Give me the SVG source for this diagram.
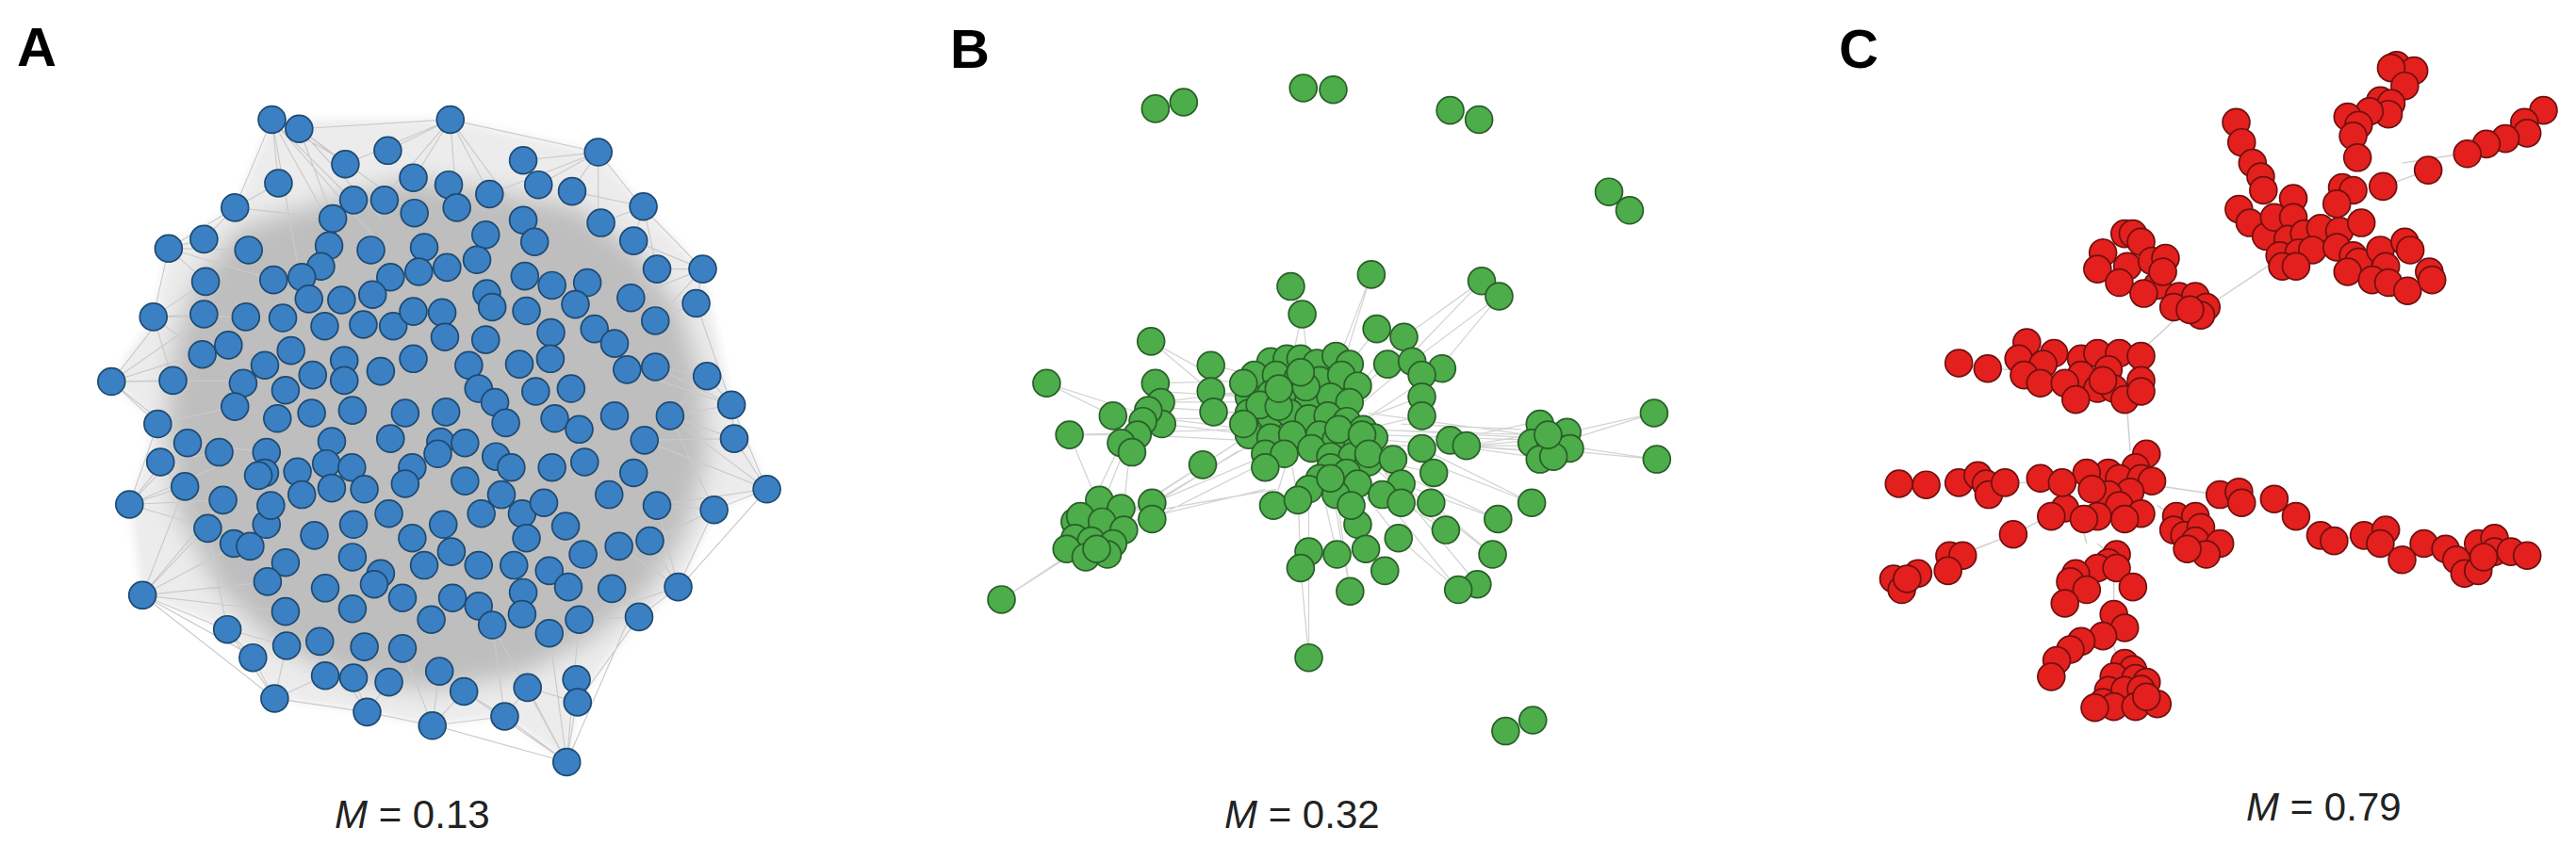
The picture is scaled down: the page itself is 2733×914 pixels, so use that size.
<svg xmlns="http://www.w3.org/2000/svg" width="2733" height="914" viewBox="0 0 2733 914">
<defs>
<filter id="soft" x="-10%" y="-10%" width="120%" height="120%"><feGaussianBlur stdDeviation="22"/></filter>
<filter id="soft2" x="-10%" y="-10%" width="120%" height="120%"><feGaussianBlur stdDeviation="8"/></filter>
</defs>
<style>
.lbl{font-family:"Liberation Sans",Arial,sans-serif;font-weight:bold;font-size:58px;fill:#000}
.m{font-family:"Liberation Sans",Arial,sans-serif;font-size:42px;fill:#222}
.na circle{fill:#3b80c2;stroke:#1e4a72;stroke-width:3}
.nb circle{fill:#4cad4a;stroke:#2a5f28;stroke-width:3}
.nc circle{fill:#e3201d;stroke:#701010;stroke-width:3}
.ea{stroke:#cacaca;stroke-width:2;fill:none}
.eb{stroke:#d4d4d4;stroke-width:2.2;fill:none}
.ec{stroke:#cfcfcf;stroke-width:2.5;fill:none}
</style>
<rect width="2733" height="914" fill="#fff"/>
<text class="lbl" x="18" y="70">A</text>
<text class="lbl" x="1008" y="72">B</text>
<text class="lbl" x="1951" y="72">C</text>
<text class="m" x="355" y="879"><tspan font-style="italic">M</tspan> = 0.13</text>
<text class="m" x="1299" y="879"><tspan font-style="italic">M</tspan> = 0.32</text>
<text class="m" x="2383" y="871"><tspan font-style="italic">M</tspan> = 0.79</text>

<g id="connectors">
<g id="edges-a" transform="scale(0.577)">
<polygon points="500,220 828,220 1100,280 1183,380 1292,495 1345,745 1410,900 1313,938 1247,1080 1175,1135 1062,1292 1042,1402 928,1318 795,1335 675,1310 505,1285 418,1158 262,1095 238,928 290,780 205,702 282,583 310,457 432,382" fill="#ececec" filter="url(#soft2)"/>
<polygon points="440,420 600,370 760,330 900,350 1060,380 1170,460 1250,570 1290,700 1300,840 1260,980 1190,1090 1080,1180 960,1240 800,1270 640,1250 500,1180 400,1080 330,950 305,800 320,640 360,520" fill="#bebebe" filter="url(#soft)"/>
<path class="ea" d="M500 220L600 400M500 220L650 370M500 220L700 450M500 220L550 500M500 220L640 300M500 220L432 382M500 220L512 337M550 237L700 400M550 237L760 390M550 237L612 402M550 237L828 220M550 237L635 302M828 220L760 330M828 220L900 357M828 220L960 400M828 220L700 370M828 220L1100 280M828 220L635 302M828 220L713 277M828 220L840 382M1100 280L990 340M1100 280L1050 352M1100 280L1100 410M1100 280L1180 380M1100 280L960 295M1100 280L900 357M205 702L320 700M205 702L380 580M205 702L370 650M205 702L290 780M205 702L450 700M205 702L300 580M205 702L420 635M205 702L345 815M238 928L340 895M238 928L290 780M238 928L380 970M238 928L420 850M238 928L300 850M238 928L410 920M238 928L345 815M262 1095L380 970M262 1095L420 1160M262 1095L470 1210M262 1095L500 1070M262 1095L340 895M262 1095L440 1000M262 1095L505 1285M262 1095L525 1125M262 1095L410 920M1042 1402L970 1265M1042 1402L1060 1290M1042 1402L928 1318M1042 1402L850 1270M1042 1402L1010 1165M1042 1402L1160 1130M1042 1402L800 1335M1042 1402L1065 1140M1042 1402L905 1150M1410 900L1313 938M1410 900L1350 807M1410 900L1230 765M1410 900L1250 1080M1410 900L1200 930M1410 900L1185 810M1410 900L1345 745M1292 495L1208 495M1292 495L1280 558M1292 495L1165 443M1292 495L1180 380M1292 495L1160 548M1292 495L1205 590M1345 745L1300 692M1345 745L1350 807M1345 745L1232 765M1345 745L1205 675M1345 745L1153 680M1345 745L1280 558M1247 1080L1175 1135M1247 1080L1138 1005M1247 1080L1313 938M1247 1080L1065 1140M1247 1080L1195 995M1247 1080L1208 930M310 457L375 440M310 457L378 518M310 457L432 382M310 457L457 460M310 457L282 583M310 457L503 515M282 583L375 578M282 583L372 652M282 583L318 700M282 583L378 518M282 583L452 583M505 1285L598 1243M505 1285L465 1210M505 1285L527 1188M505 1285L675 1310M505 1285L418 1158M675 1310L795 1335M675 1310L715 1255M675 1310L650 1247M675 1310L588 1180M795 1335L808 1235M795 1335L853 1272M795 1335L928 1318M795 1335L740 1193M928 1318L970 1265M928 1318L853 1272M928 1318L905 1150M1062 1292L970 1265M1062 1292L1060 1250M1062 1292L1175 1135M1175 1135L1125 1083M1175 1135L1065 1140M1313 938L1208 930M1313 938L1232 765M1313 938L1195 995M1183 380L1105 410M1183 380L1165 443M1183 380L1052 352M418 1158L465 1210M418 1158L527 1188M418 1158L382 972M432 382L512 337M432 382L612 402M432 382L375 440M290 780L403 832M290 780L432 748M295 850L403 832M295 850L382 972M345 815L490 832M1350 807L1185 810M1350 807L1232 765M1300 692L1205 675M1300 692L1232 765M1280 558L1205 590M1183 380L1208 495"/>
</g>
<g id="edges-b" transform="translate(950 0) scale(0.577)">
<path class="eb" d="M875 505L820 680M875 505L800 700M727 527L748 578M748 578L760 680M748 578L720 700M1078 517L960 640M1078 517L935 620M1110 545L970 650M1110 545L990 690M470 628L600 700M470 628L580 720M278 705L450 760M278 705L400 765M320 800L620 790M320 800L370 920M320 800L445 800M195 1103L340 1010M195 1103L320 1020M760 1210L760 930M760 1210L745 1045M1395 760L1240 795M1395 760L1235 810M1400 845L1240 830M1400 845L1230 820M1170 925L900 820M1170 925L968 825M1108 955L880 850M1108 955L930 890M1098 1020L890 860M1098 1020L985 925M1035 1085L870 880M1035 1085L925 990M1070 1075L900 870M836 1088L810 900M836 1088L800 880M490 740L640 740M490 750L650 760M490 770L650 790M490 780L660 800M488 740L640 720M478 705L660 700M478 720L650 730M455 770L640 770M445 800L640 810M420 950L650 800M440 940L700 830M430 960L680 900M470 930L630 830M400 960L565 855M472 925L650 820M472 955L680 850M472 940L700 900M420 830L380 930M430 840L420 930M415 815L350 950M565 855L650 800M1060 820L1170 810M1050 820L1170 800M1050 820L1180 830M1060 825L1170 840M1020 810L1160 780M880 800L1180 810M860 790L1170 800M890 820L1160 820M880 790L1160 805M900 810L1170 830M870 760L1165 800M930 780L1150 790M885 605L820 690M935 620L850 710M905 670L850 720M950 665L860 740M1005 678L880 760M968 730L860 770M968 765L860 790M858 800L800 800M990 870L850 840M1012 975L880 860M925 990L840 880M900 1050L830 880M865 1010L800 870M812 1020L780 880M760 1015L760 880M745 1045L740 900M695 930L720 850M740 920L730 860M580 720L650 730M585 758L650 760M580 672L660 690M1012 975L930 925M1098 1020L985 925"/>
</g>
<g id="edges-c" transform="translate(1833 0) scale(0.577)">
<path class="ec" d="M1000 485L880 565M820 590L745 660M735 760L740 830M800 895L900 910M455 1010L520 985M520 985L590 950M1240 300L1350 283M1205 343L1288 313M1080 470L1160 480M710 1060L710 1130M700 1160L720 1220M520 685L550 690M478 678L520 680M520 888L560 888M790 930L820 950M650 960L660 1000M680 1000L715 1030M1135 990L1170 985M1230 1010L1280 1005M1000 918L1045 950M1060 440L1040 400M1130 345L1150 400"/>
</g>
</g>

<g id="nodes-a" class="na" transform="scale(0.577)">
<circle id="a1" cx="500" cy="220" r="25"/><circle id="a2" cx="550" cy="237" r="25"/><circle id="a3" cx="828" cy="220" r="25"/>
<circle id="a4" cx="713" cy="277" r="25"/><circle id="a5" cx="1100" cy="280" r="25"/>
<circle id="a6" cx="635" cy="302" r="25"/><circle id="a7" cx="962" cy="295" r="25"/>
<circle id="a8" cx="512" cy="337" r="25"/><circle id="a9" cx="760" cy="327" r="25"/><circle id="a10" cx="825" cy="340" r="25"/><circle id="a11" cx="990" cy="340" r="25"/>
<circle id="a12" cx="650" cy="368" r="25"/><circle id="a13" cx="707" cy="368" r="25"/><circle id="a14" cx="900" cy="357" r="25"/><circle id="a15" cx="1052" cy="352" r="25"/>
<circle id="a16" cx="432" cy="382" r="25"/><circle id="a17" cx="762" cy="392" r="25"/><circle id="a18" cx="840" cy="382" r="25"/><circle id="a19" cx="1183" cy="380" r="25"/>
<circle id="a20" cx="612" cy="402" r="25"/><circle id="a21" cx="962" cy="405" r="25"/><circle id="a22" cx="1105" cy="410" r="25"/>
<circle id="a23" cx="310" cy="457" r="25"/><circle id="a24" cx="375" cy="440" r="25"/><circle id="a25" cx="457" cy="460" r="25"/><circle id="a26" cx="605" cy="452" r="25"/><circle id="a27" cx="682" cy="460" r="25"/><circle id="a28" cx="780" cy="455" r="25"/><circle id="a29" cx="893" cy="432" r="25"/><circle id="a30" cx="983" cy="445" r="25"/><circle id="a31" cx="1165" cy="443" r="25"/>
<circle id="a32" cx="590" cy="490" r="25"/><circle id="a33" cx="503" cy="515" r="25"/><circle id="a34" cx="555" cy="510" r="25"/><circle id="a35" cx="718" cy="510" r="25"/><circle id="a36" cx="770" cy="500" r="25"/><circle id="a37" cx="822" cy="492" r="25"/><circle id="a38" cx="877" cy="478" r="25"/><circle id="a39" cx="965" cy="508" r="25"/><circle id="a40" cx="1015" cy="525" r="25"/><circle id="a41" cx="1080" cy="520" r="25"/><circle id="a42" cx="1208" cy="495" r="25"/><circle id="a43" cx="1292" cy="495" r="25"/>
<circle id="a44" cx="378" cy="518" r="25"/><circle id="a45" cx="568" cy="550" r="25"/><circle id="a46" cx="628" cy="552" r="25"/><circle id="a47" cx="685" cy="542" r="25"/><circle id="a48" cx="895" cy="540" r="25"/><circle id="a49" cx="905" cy="565" r="25"/><circle id="a50" cx="1058" cy="560" r="25"/><circle id="a51" cx="1160" cy="548" r="25"/><circle id="a52" cx="1280" cy="558" r="25"/>
<circle id="a53" cx="282" cy="583" r="25"/><circle id="a54" cx="375" cy="578" r="25"/><circle id="a55" cx="452" cy="583" r="25"/><circle id="a56" cx="520" cy="585" r="25"/><circle id="a57" cx="597" cy="600" r="25"/><circle id="a58" cx="668" cy="597" r="25"/><circle id="a59" cx="723" cy="600" r="25"/><circle id="a60" cx="760" cy="573" r="25"/><circle id="a61" cx="813" cy="575" r="25"/><circle id="a62" cx="818" cy="620" r="25"/><circle id="a63" cx="968" cy="572" r="25"/><circle id="a64" cx="1013" cy="612" r="25"/><circle id="a65" cx="1093" cy="605" r="25"/><circle id="a66" cx="1205" cy="590" r="25"/>
<circle id="a67" cx="372" cy="652" r="25"/><circle id="a68" cx="420" cy="635" r="25"/><circle id="a69" cx="535" cy="645" r="25"/><circle id="a70" cx="893" cy="625" r="25"/><circle id="a71" cx="1130" cy="632" r="25"/>
<circle id="a72" cx="205" cy="702" r="25"/><circle id="a73" cx="318" cy="700" r="25"/><circle id="a74" cx="487" cy="672" r="25"/><circle id="a75" cx="447" cy="705" r="25"/><circle id="a76" cx="575" cy="690" r="25"/><circle id="a77" cx="633" cy="663" r="25"/><circle id="a78" cx="633" cy="700" r="25"/><circle id="a79" cx="700" cy="683" r="25"/><circle id="a80" cx="760" cy="660" r="25"/><circle id="a81" cx="862" cy="672" r="25"/><circle id="a82" cx="880" cy="715" r="25"/><circle id="a83" cx="955" cy="670" r="25"/><circle id="a84" cx="1012" cy="660" r="25"/><circle id="a85" cx="1153" cy="680" r="25"/><circle id="a86" cx="1205" cy="675" r="25"/><circle id="a87" cx="1300" cy="692" r="25"/>
<circle id="a88" cx="525" cy="718" r="25"/><circle id="a89" cx="910" cy="740" r="25"/><circle id="a90" cx="985" cy="720" r="25"/><circle id="a91" cx="1050" cy="715" r="25"/><circle id="a92" cx="1345" cy="745" r="25"/>
<circle id="a93" cx="290" cy="780" r="25"/><circle id="a94" cx="432" cy="748" r="25"/><circle id="a95" cx="510" cy="770" r="25"/><circle id="a96" cx="648" cy="755" r="25"/><circle id="a97" cx="573" cy="760" r="25"/><circle id="a98" cx="745" cy="760" r="25"/><circle id="a99" cx="820" cy="758" r="25"/><circle id="a100" cx="930" cy="778" r="25"/><circle id="a101" cx="1020" cy="770" r="25"/><circle id="a102" cx="1065" cy="790" r="25"/><circle id="a103" cx="1130" cy="765" r="25"/><circle id="a104" cx="1232" cy="765" r="25"/>
<circle id="a105" cx="345" cy="815" r="25"/><circle id="a106" cx="403" cy="832" r="25"/><circle id="a107" cx="490" cy="832" r="25"/><circle id="a108" cx="610" cy="812" r="25"/><circle id="a109" cx="600" cy="853" r="25"/><circle id="a110" cx="718" cy="807" r="25"/><circle id="a111" cx="810" cy="813" r="25"/><circle id="a112" cx="855" cy="815" r="25"/><circle id="a113" cx="1185" cy="810" r="25"/><circle id="a114" cx="1350" cy="807" r="25"/>
<circle id="a115" cx="295" cy="850" r="25"/><circle id="a116" cx="487" cy="870" r="25"/><circle id="a117" cx="547" cy="868" r="25"/><circle id="a118" cx="647" cy="860" r="25"/><circle id="a119" cx="758" cy="860" r="25"/><circle id="a120" cx="805" cy="835" r="25"/><circle id="a121" cx="912" cy="840" r="25"/><circle id="a122" cx="940" cy="860" r="25"/><circle id="a123" cx="1015" cy="860" r="25"/><circle id="a124" cx="1075" cy="850" r="25"/><circle id="a125" cx="1165" cy="870" r="25"/>
<circle id="a126" cx="238" cy="928" r="25"/><circle id="a127" cx="340" cy="895" r="25"/><circle id="a128" cx="410" cy="920" r="25"/><circle id="a129" cx="475" cy="875" r="25"/><circle id="a130" cx="555" cy="910" r="25"/><circle id="a131" cx="610" cy="898" r="25"/><circle id="a132" cx="670" cy="900" r="25"/><circle id="a133" cx="745" cy="890" r="25"/><circle id="a134" cx="855" cy="885" r="25"/><circle id="a135" cx="922" cy="910" r="25"/><circle id="a136" cx="960" cy="945" r="25"/><circle id="a137" cx="1000" cy="925" r="25"/><circle id="a138" cx="1120" cy="910" r="25"/><circle id="a139" cx="1208" cy="930" r="25"/><circle id="a140" cx="1313" cy="938" r="25"/><circle id="a141" cx="1410" cy="900" r="25"/>
<circle id="a142" cx="382" cy="972" r="25"/><circle id="a143" cx="430" cy="1000" r="25"/><circle id="a144" cx="460" cy="1005" r="25"/><circle id="a145" cx="490" cy="965" r="25"/><circle id="a146" cx="498" cy="930" r="25"/><circle id="a147" cx="578" cy="985" r="25"/><circle id="a148" cx="650" cy="965" r="25"/><circle id="a149" cx="715" cy="945" r="25"/><circle id="a150" cx="758" cy="990" r="25"/><circle id="a151" cx="815" cy="965" r="25"/><circle id="a152" cx="885" cy="945" r="25"/><circle id="a153" cx="968" cy="990" r="25"/><circle id="a154" cx="1040" cy="968" r="25"/><circle id="a155" cx="1138" cy="1005" r="25"/><circle id="a156" cx="1195" cy="995" r="25"/><circle id="a157" cx="1247" cy="1080" r="25"/>
<circle id="a158" cx="525" cy="1035" r="25"/><circle id="a159" cx="648" cy="1025" r="25"/><circle id="a160" cx="700" cy="1055" r="25"/><circle id="a161" cx="780" cy="1040" r="25"/><circle id="a162" cx="830" cy="1015" r="25"/><circle id="a163" cx="880" cy="1040" r="25"/><circle id="a164" cx="945" cy="1040" r="25"/><circle id="a165" cx="1010" cy="1050" r="25"/><circle id="a166" cx="1072" cy="1020" r="25"/>
<circle id="a167" cx="492" cy="1070" r="25"/><circle id="a168" cx="598" cy="1082" r="25"/><circle id="a169" cx="688" cy="1075" r="25"/><circle id="a170" cx="740" cy="1100" r="25"/><circle id="a171" cx="832" cy="1100" r="25"/><circle id="a172" cx="880" cy="1115" r="25"/><circle id="a173" cx="962" cy="1090" r="25"/><circle id="a174" cx="1045" cy="1080" r="25"/><circle id="a175" cx="1125" cy="1083" r="25"/>
<circle id="a176" cx="262" cy="1095" r="25"/><circle id="a177" cx="525" cy="1125" r="25"/><circle id="a178" cx="648" cy="1120" r="25"/><circle id="a179" cx="793" cy="1140" r="25"/><circle id="a180" cx="905" cy="1150" r="25"/><circle id="a181" cx="960" cy="1130" r="25"/><circle id="a182" cx="1065" cy="1140" r="25"/><circle id="a183" cx="1175" cy="1135" r="25"/>
<circle id="a184" cx="418" cy="1158" r="25"/><circle id="a185" cx="527" cy="1188" r="25"/><circle id="a186" cx="588" cy="1180" r="25"/><circle id="a187" cx="670" cy="1190" r="25"/><circle id="a188" cx="740" cy="1193" r="25"/><circle id="a189" cx="1010" cy="1165" r="25"/>
<circle id="a190" cx="465" cy="1210" r="25"/><circle id="a191" cx="598" cy="1243" r="25"/><circle id="a192" cx="650" cy="1247" r="25"/><circle id="a193" cx="715" cy="1255" r="25"/><circle id="a194" cx="808" cy="1235" r="25"/><circle id="a195" cx="853" cy="1272" r="25"/><circle id="a196" cx="970" cy="1265" r="25"/><circle id="a197" cx="1060" cy="1250" r="25"/>
<circle id="a198" cx="505" cy="1285" r="25"/><circle id="a199" cx="675" cy="1310" r="25"/><circle id="a200" cx="795" cy="1335" r="25"/><circle id="a201" cx="928" cy="1318" r="25"/><circle id="a202" cx="1062" cy="1292" r="25"/>
<circle id="a203" cx="1042" cy="1402" r="25"/>
</g>

<g id="nodes-b" class="nb" transform="translate(950 0) scale(0.577)">
<circle id="b1" cx="478" cy="200" r="25"/><circle id="b2" cx="530" cy="188" r="25"/><circle id="b3" cx="750" cy="162" r="25"/><circle id="b4" cx="805" cy="165" r="25"/><circle id="b5" cx="1020" cy="203" r="25"/><circle id="b6" cx="1073" cy="220" r="25"/><circle id="b7" cx="1312" cy="353" r="25"/><circle id="b8" cx="1350" cy="387" r="25"/><circle id="b9" cx="1122" cy="1345" r="25"/><circle id="b10" cx="1172" cy="1325" r="25"/>
<circle id="b11" cx="875" cy="505" r="25"/><circle id="b12" cx="727" cy="527" r="25"/><circle id="b13" cx="748" cy="578" r="25"/><circle id="b14" cx="1078" cy="517" r="25"/><circle id="b15" cx="1110" cy="545" r="25"/><circle id="b16" cx="470" cy="628" r="25"/><circle id="b17" cx="278" cy="705" r="25"/><circle id="b18" cx="320" cy="800" r="25"/><circle id="b19" cx="195" cy="1103" r="25"/><circle id="b20" cx="760" cy="1210" r="25"/><circle id="b21" cx="1395" cy="760" r="25"/><circle id="b22" cx="1400" cy="845" r="25"/><circle id="b23" cx="1170" cy="925" r="25"/><circle id="b24" cx="1108" cy="955" r="25"/><circle id="b25" cx="1098" cy="1020" r="25"/><circle id="b26" cx="1070" cy="1075" r="25"/><circle id="b27" cx="1035" cy="1085" r="25"/><circle id="b28" cx="836" cy="1088" r="25"/>
<circle id="b29" cx="580" cy="672" r="25"/><circle id="b30" cx="580" cy="720" r="25"/><circle id="b31" cx="585" cy="758" r="25"/><circle id="b32" cx="478" cy="705" r="25"/><circle id="b33" cx="488" cy="740" r="25"/><circle id="b34" cx="490" cy="780" r="25"/><circle id="b35" cx="465" cy="755" r="25"/><circle id="b36" cx="455" cy="775" r="25"/><circle id="b37" cx="445" cy="800" r="25"/><circle id="b38" cx="400" cy="765" r="25"/><circle id="b39" cx="415" cy="815" r="25"/><circle id="b40" cx="435" cy="832" r="25"/><circle id="b41" cx="565" cy="855" r="25"/>
<circle id="b42" cx="330" cy="960" r="25"/><circle id="b43" cx="375" cy="920" r="25"/><circle id="b44" cx="415" cy="935" r="25"/><circle id="b45" cx="340" cy="950" r="25"/><circle id="b46" cx="380" cy="960" r="25"/><circle id="b47" cx="330" cy="990" r="25"/><circle id="b48" cx="420" cy="975" r="25"/><circle id="b49" cx="360" cy="995" r="25"/><circle id="b50" cx="400" cy="1000" r="25"/><circle id="b51" cx="315" cy="1010" r="25"/><circle id="b52" cx="350" cy="1025" r="25"/><circle id="b53" cx="390" cy="1020" r="25"/><circle id="b54" cx="370" cy="1010" r="25"/><circle id="b55" cx="472" cy="925" r="25"/><circle id="b56" cx="472" cy="955" r="25"/>
<circle id="b57" cx="690" cy="665" r="25"/><circle id="b58" cx="720" cy="660" r="25"/><circle id="b59" cx="745" cy="660" r="25"/><circle id="b60" cx="775" cy="668" r="25"/><circle id="b61" cx="810" cy="655" r="25"/><circle id="b62" cx="835" cy="670" r="25"/><circle id="b63" cx="660" cy="690" r="25"/><circle id="b64" cx="700" cy="690" r="25"/><circle id="b65" cx="740" cy="695" r="25"/><circle id="b66" cx="780" cy="700" r="25"/><circle id="b67" cx="820" cy="690" r="25"/><circle id="b68" cx="850" cy="710" r="25"/><circle id="b69" cx="650" cy="730" r="25"/><circle id="b70" cx="690" cy="725" r="25"/><circle id="b71" cx="730" cy="730" r="25"/><circle id="b72" cx="760" cy="735" r="25"/><circle id="b73" cx="800" cy="730" r="25"/><circle id="b74" cx="835" cy="740" r="25"/><circle id="b75" cx="650" cy="760" r="25"/><circle id="b76" cx="690" cy="765" r="25"/><circle id="b77" cx="725" cy="760" r="25"/><circle id="b78" cx="760" cy="770" r="25"/><circle id="b79" cx="795" cy="765" r="25"/><circle id="b80" cx="830" cy="775" r="25"/><circle id="b81" cx="860" cy="790" r="25"/><circle id="b82" cx="650" cy="800" r="25"/><circle id="b83" cx="690" cy="805" r="25"/><circle id="b84" cx="730" cy="800" r="25"/><circle id="b85" cx="780" cy="800" r="25"/><circle id="b86" cx="810" cy="810" r="25"/><circle id="b87" cx="850" cy="815" r="25"/><circle id="b88" cx="880" cy="805" r="25"/><circle id="b89" cx="680" cy="835" r="25"/><circle id="b90" cx="715" cy="835" r="25"/><circle id="b91" cx="765" cy="825" r="25"/><circle id="b92" cx="800" cy="840" r="25"/><circle id="b93" cx="840" cy="840" r="25"/><circle id="b94" cx="870" cy="850" r="25"/><circle id="b95" cx="680" cy="860" r="25"/><circle id="b96" cx="800" cy="860" r="25"/><circle id="b97" cx="780" cy="880" r="25"/><circle id="b98" cx="830" cy="870" r="25"/><circle id="b99" cx="850" cy="890" r="25"/><circle id="b100" cx="760" cy="900" r="25"/><circle id="b101" cx="810" cy="910" r="25"/>
<circle id="b141" cx="640" cy="705" r="25"/><circle id="b142" cx="670" cy="745" r="25"/><circle id="b143" cx="705" cy="748" r="25"/><circle id="b144" cx="755" cy="712" r="25"/><circle id="b145" cx="640" cy="780" r="25"/><circle id="b146" cx="745" cy="685" r="25"/><circle id="b147" cx="705" cy="715" r="25"/><circle id="b148" cx="815" cy="790" r="25"/>
<circle id="b102" cx="885" cy="605" r="25"/><circle id="b103" cx="935" cy="620" r="25"/><circle id="b104" cx="905" cy="670" r="25"/><circle id="b105" cx="950" cy="665" r="25"/><circle id="b106" cx="1005" cy="678" r="25"/><circle id="b107" cx="968" cy="690" r="25"/><circle id="b108" cx="968" cy="730" r="25"/><circle id="b109" cx="968" cy="765" r="25"/><circle id="b110" cx="858" cy="800" r="25"/><circle id="b111" cx="870" cy="835" r="25"/><circle id="b112" cx="915" cy="845" r="25"/><circle id="b113" cx="968" cy="825" r="25"/><circle id="b114" cx="990" cy="870" r="25"/><circle id="b115" cx="1020" cy="810" r="25"/><circle id="b116" cx="1050" cy="820" r="25"/><circle id="b117" cx="930" cy="890" r="25"/><circle id="b118" cx="895" cy="910" r="25"/><circle id="b119" cx="930" cy="925" r="25"/><circle id="b120" cx="985" cy="925" r="25"/><circle id="b121" cx="1012" cy="975" r="25"/><circle id="b122" cx="925" cy="990" r="25"/><circle id="b123" cx="850" cy="965" r="25"/><circle id="b124" cx="865" cy="1010" r="25"/><circle id="b125" cx="900" cy="1050" r="25"/><circle id="b126" cx="812" cy="1020" r="25"/><circle id="b127" cx="760" cy="1015" r="25"/><circle id="b128" cx="745" cy="1045" r="25"/><circle id="b129" cx="695" cy="930" r="25"/><circle id="b130" cx="740" cy="920" r="25"/><circle id="b131" cx="800" cy="880" r="25"/><circle id="b132" cx="838" cy="930" r="25"/>
<circle id="b133" cx="1185" cy="780" r="25"/><circle id="b134" cx="1235" cy="795" r="25"/><circle id="b135" cx="1170" cy="815" r="25"/><circle id="b136" cx="1205" cy="815" r="25"/><circle id="b137" cx="1240" cy="825" r="25"/><circle id="b138" cx="1185" cy="845" r="25"/><circle id="b139" cx="1210" cy="840" r="25"/><circle id="b140" cx="1200" cy="800" r="25"/>
</g>

<g id="nodes-c" class="nc" transform="translate(1833 0) scale(0.577)">
<circle id="c1" cx="1230" cy="120" r="25"/><circle id="c2" cx="1262" cy="130" r="25"/><circle id="c3" cx="1220" cy="125" r="25"/><circle id="c4" cx="1245" cy="158" r="25"/><circle id="c5" cx="1200" cy="185" r="25"/><circle id="c6" cx="1220" cy="190" r="25"/><circle id="c7" cx="1215" cy="210" r="25"/><circle id="c8" cx="1180" cy="205" r="25"/><circle id="c9" cx="1140" cy="215" r="25"/><circle id="c10" cx="1160" cy="230" r="25"/><circle id="c11" cx="1150" cy="250" r="25"/><circle id="c12" cx="1158" cy="290" r="25"/>
<circle id="c13" cx="1500" cy="203" r="25"/><circle id="c14" cx="1465" cy="225" r="25"/><circle id="c15" cx="1470" cy="245" r="25"/><circle id="c16" cx="1430" cy="255" r="25"/><circle id="c17" cx="1395" cy="265" r="25"/><circle id="c18" cx="1360" cy="283" r="25"/><circle id="c19" cx="1288" cy="313" r="25"/><circle id="c20" cx="1205" cy="343" r="25"/>
<circle id="c21" cx="935" cy="225" r="25"/><circle id="c22" cx="945" cy="262" r="25"/><circle id="c23" cx="965" cy="300" r="25"/><circle id="c24" cx="980" cy="325" r="25"/><circle id="c25" cx="985" cy="350" r="25"/><circle id="c26" cx="1040" cy="365" r="25"/><circle id="c27" cx="1130" cy="345" r="25"/><circle id="c28" cx="1150" cy="350" r="25"/><circle id="c29" cx="1120" cy="375" r="25"/>
<circle id="c30" cx="940" cy="385" r="25"/><circle id="c31" cx="960" cy="410" r="25"/><circle id="c32" cx="990" cy="435" r="25"/><circle id="c33" cx="1005" cy="400" r="25"/><circle id="c34" cx="1040" cy="400" r="25"/><circle id="c35" cx="1030" cy="440" r="25"/><circle id="c36" cx="1060" cy="430" r="25"/><circle id="c37" cx="1090" cy="420" r="25"/><circle id="c38" cx="1125" cy="425" r="25"/><circle id="c39" cx="1165" cy="410" r="25"/><circle id="c40" cx="1015" cy="470" r="25"/><circle id="c41" cx="1050" cy="465" r="25"/><circle id="c42" cx="1075" cy="460" r="25"/><circle id="c43" cx="1120" cy="455" r="25"/><circle id="c44" cx="1150" cy="470" r="25"/><circle id="c45" cx="1160" cy="482" r="25"/><circle id="c46" cx="1200" cy="460" r="25"/><circle id="c47" cx="1245" cy="445" r="25"/><circle id="c48" cx="1255" cy="460" r="25"/><circle id="c49" cx="1210" cy="490" r="25"/><circle id="c50" cx="1140" cy="500" r="25"/><circle id="c51" cx="1185" cy="515" r="25"/><circle id="c52" cx="1215" cy="520" r="25"/><circle id="c53" cx="1250" cy="535" r="25"/><circle id="c54" cx="1290" cy="500" r="25"/><circle id="c55" cx="1295" cy="515" r="25"/><circle id="c56" cx="1020" cy="490" r="25"/><circle id="c57" cx="1045" cy="490" r="25"/>
<circle id="c58" cx="730" cy="430" r="25"/><circle id="c59" cx="745" cy="430" r="25"/><circle id="c60" cx="760" cy="445" r="25"/><circle id="c61" cx="690" cy="465" r="25"/><circle id="c62" cx="735" cy="490" r="25"/><circle id="c63" cx="780" cy="480" r="25"/><circle id="c64" cx="805" cy="475" r="25"/><circle id="c65" cx="680" cy="495" r="25"/><circle id="c66" cx="720" cy="520" r="25"/><circle id="c67" cx="790" cy="525" r="25"/><circle id="c68" cx="800" cy="500" r="25"/><circle id="c69" cx="765" cy="540" r="25"/><circle id="c70" cx="830" cy="545" r="25"/><circle id="c71" cx="860" cy="545" r="25"/><circle id="c72" cx="880" cy="565" r="25"/><circle id="c73" cx="820" cy="565" r="25"/><circle id="c74" cx="870" cy="580" r="25"/><circle id="c75" cx="850" cy="570" r="25"/>
<circle id="c76" cx="425" cy="668" r="25"/><circle id="c77" cx="478" cy="678" r="25"/><circle id="c78" cx="550" cy="630" r="25"/><circle id="c79" cx="535" cy="660" r="25"/><circle id="c80" cx="600" cy="650" r="25"/><circle id="c81" cx="580" cy="670" r="25"/><circle id="c82" cx="545" cy="690" r="25"/><circle id="c83" cx="575" cy="705" r="25"/><circle id="c84" cx="650" cy="660" r="25"/><circle id="c85" cx="680" cy="650" r="25"/><circle id="c86" cx="720" cy="650" r="25"/><circle id="c87" cx="760" cy="655" r="25"/><circle id="c88" cx="700" cy="680" r="25"/><circle id="c89" cx="650" cy="690" r="25"/><circle id="c90" cx="620" cy="705" r="25"/><circle id="c91" cx="680" cy="715" r="25"/><circle id="c92" cx="710" cy="715" r="25"/><circle id="c93" cx="760" cy="700" r="25"/><circle id="c94" cx="640" cy="735" r="25"/><circle id="c95" cx="730" cy="735" r="25"/><circle id="c96" cx="760" cy="720" r="25"/><circle id="c97" cx="690" cy="700" r="25"/>
<circle id="c98" cx="770" cy="835" r="25"/><circle id="c99" cx="750" cy="860" r="25"/><circle id="c100" cx="700" cy="870" r="25"/><circle id="c101" cx="660" cy="870" r="25"/><circle id="c102" cx="720" cy="880" r="25"/><circle id="c103" cx="760" cy="880" r="25"/><circle id="c104" cx="780" cy="885" r="25"/><circle id="c105" cx="740" cy="905" r="25"/><circle id="c106" cx="700" cy="910" r="25"/><circle id="c107" cx="670" cy="900" r="25"/><circle id="c108" cx="720" cy="930" r="25"/><circle id="c109" cx="760" cy="945" r="25"/><circle id="c110" cx="730" cy="955" r="25"/><circle id="c111" cx="680" cy="950" r="25"/><circle id="c112" cx="620" cy="935" r="25"/><circle id="c113" cx="595" cy="950" r="25"/><circle id="c114" cx="655" cy="955" r="25"/>
<circle id="c115" cx="315" cy="890" r="25"/><circle id="c116" cx="365" cy="892" r="25"/><circle id="c117" cx="425" cy="888" r="25"/><circle id="c118" cx="460" cy="875" r="25"/><circle id="c119" cx="475" cy="890" r="25"/><circle id="c120" cx="480" cy="910" r="25"/><circle id="c121" cx="510" cy="888" r="25"/><circle id="c122" cx="575" cy="880" r="25"/><circle id="c123" cx="615" cy="888" r="25"/>
<circle id="c124" cx="525" cy="983" r="25"/><circle id="c125" cx="408" cy="1022" r="25"/><circle id="c126" cx="432" cy="1022" r="25"/><circle id="c127" cx="405" cy="1050" r="25"/><circle id="c128" cx="350" cy="1055" r="25"/><circle id="c129" cx="305" cy="1065" r="25"/><circle id="c130" cx="320" cy="1085" r="25"/><circle id="c131" cx="330" cy="1065" r="25"/>
<circle id="c132" cx="825" cy="950" r="25"/><circle id="c133" cx="860" cy="950" r="25"/><circle id="c134" cx="820" cy="975" r="25"/><circle id="c135" cx="840" cy="985" r="25"/><circle id="c136" cx="870" cy="970" r="25"/><circle id="c137" cx="860" cy="995" r="25"/><circle id="c138" cx="905" cy="1000" r="25"/><circle id="c139" cx="880" cy="1020" r="25"/><circle id="c140" cx="845" cy="1010" r="25"/>
<circle id="c141" cx="905" cy="910" r="25"/><circle id="c142" cx="940" cy="905" r="25"/><circle id="c143" cx="945" cy="925" r="25"/><circle id="c144" cx="1005" cy="918" r="25"/><circle id="c145" cx="1045" cy="950" r="25"/><circle id="c146" cx="1090" cy="985" r="25"/><circle id="c147" cx="1115" cy="995" r="25"/><circle id="c148" cx="1170" cy="985" r="25"/><circle id="c149" cx="1210" cy="975" r="25"/><circle id="c150" cx="1200" cy="1000" r="25"/><circle id="c151" cx="1240" cy="1030" r="25"/><circle id="c152" cx="1280" cy="1000" r="25"/><circle id="c153" cx="1320" cy="1010" r="25"/><circle id="c154" cx="1340" cy="1030" r="25"/><circle id="c155" cx="1380" cy="1000" r="25"/><circle id="c156" cx="1410" cy="990" r="25"/><circle id="c157" cx="1410" cy="1015" r="25"/><circle id="c158" cx="1440" cy="1015" r="25"/><circle id="c159" cx="1470" cy="1022" r="25"/><circle id="c160" cx="1355" cy="1055" r="25"/><circle id="c161" cx="1380" cy="1050" r="25"/><circle id="c162" cx="1390" cy="1025" r="25"/>
<circle id="c163" cx="715" cy="1020" r="25"/><circle id="c164" cx="700" cy="1035" r="25"/><circle id="c165" cx="680" cy="1045" r="25"/><circle id="c166" cx="640" cy="1055" r="25"/><circle id="c167" cx="630" cy="1070" r="25"/><circle id="c168" cx="660" cy="1085" r="25"/><circle id="c169" cx="715" cy="1045" r="25"/><circle id="c170" cx="745" cy="1080" r="25"/><circle id="c171" cx="620" cy="1110" r="25"/><circle id="c172" cx="710" cy="1130" r="25"/><circle id="c173" cx="730" cy="1155" r="25"/><circle id="c174" cx="690" cy="1170" r="25"/><circle id="c175" cx="650" cy="1180" r="25"/><circle id="c176" cx="630" cy="1195" r="25"/><circle id="c177" cx="605" cy="1215" r="25"/><circle id="c178" cx="595" cy="1245" r="25"/>
<circle id="c179" cx="730" cy="1220" r="25"/><circle id="c180" cx="745" cy="1232" r="25"/><circle id="c181" cx="710" cy="1245" r="25"/><circle id="c182" cx="750" cy="1248" r="25"/><circle id="c183" cx="770" cy="1255" r="25"/><circle id="c184" cx="700" cy="1270" r="25"/><circle id="c185" cx="730" cy="1270" r="25"/><circle id="c186" cx="760" cy="1268" r="25"/><circle id="c187" cx="690" cy="1292" r="25"/><circle id="c188" cx="710" cy="1300" r="25"/><circle id="c189" cx="750" cy="1300" r="25"/><circle id="c190" cx="790" cy="1295" r="25"/><circle id="c191" cx="770" cy="1282" r="25"/><circle id="c192" cx="675" cy="1302" r="25"/>
</g>
</svg>
